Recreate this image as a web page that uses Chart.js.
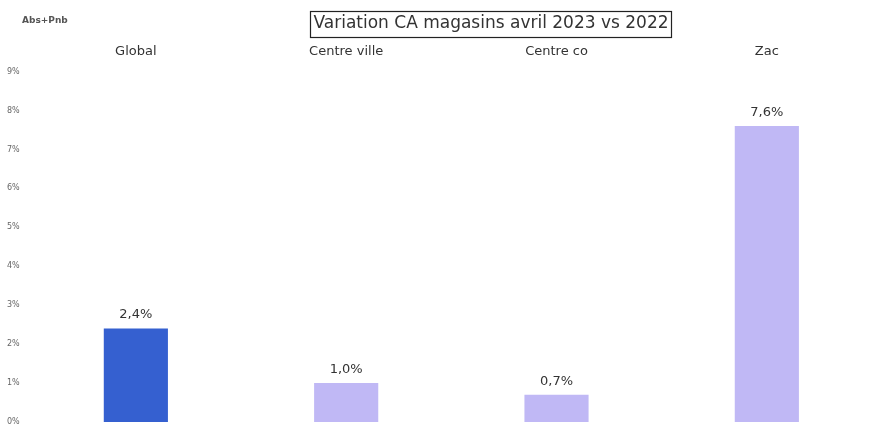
<!DOCTYPE html>
<html>
<head>
<meta charset="utf-8">
<script src="https://cdn.jsdelivr.net/npm/chart.js@4.4.0/dist/chart.umd.min.js"></script>
<style>
html,body{margin:0;padding:0;background:#fff;}
#wrap{width:887px;height:437px;position:relative;}
</style>
</head>
<body>
<div id="wrap"><canvas id="c" width="887" height="437"></canvas></div>
<script>
const categories = ["Global", "Centre ville", "Centre co", "Zac"];
const values = [2.4, 1.0, 0.7, 7.6];
const barColors = ["#3560d0", "#c0b8f5", "#c0b8f5", "#c0b8f5"];
const titleText = "Variation CA magasins avril 2023 vs 2022";
const cornerText = "Abs+Pnb";
const yMin = 0, yMax = 9, yStep = 1;

const fmt = v => v.toFixed(1).replace('.', ',') + '%';

const extras = {
  id: 'extras',
  afterDraw(chart) {
    const ctx = chart.ctx;
    ctx.save();
    // title with box
    ctx.font = '17px "DejaVu Sans", sans-serif';
    const w = ctx.measureText(titleText).width;
    const cx = 491, cy = 24;
    ctx.fillStyle = '#333';
    ctx.textAlign = 'center';
    ctx.textBaseline = 'middle';
    ctx.fillText(titleText, cx, cy);
    ctx.strokeStyle = '#222';
    ctx.lineWidth = 1.2;
    ctx.strokeRect(Math.round(cx - w / 2 - 3) + 0.5, Math.round(cy - 13) + 0.5, Math.round(w + 6), 26);
    // corner text
    ctx.font = 'bold 9px "DejaVu Sans", sans-serif';
    ctx.fillStyle = '#555';
    ctx.textAlign = 'left';
    ctx.fillText(cornerText, 22, 21);
    // data labels
    const meta = chart.getDatasetMeta(0);
    ctx.font = '13px "DejaVu Sans", sans-serif';
    ctx.fillStyle = '#333';
    ctx.textAlign = 'center';
    ctx.textBaseline = 'bottom';
    meta.data.forEach((bar, i) => {
      ctx.fillText(fmt(values[i]), bar.x, bar.y - 7);
    });
    ctx.restore();
  }
};

new Chart(document.getElementById('c'), {
  type: 'bar',
  data: {
    labels: categories,
    datasets: [{
      data: values,
      backgroundColor: barColors,
      borderWidth: 0,
      barPercentage: 0.61,
      categoryPercentage: 0.5
    }]
  },
  options: {
    responsive: false,
    animation: false,
    layout: { padding: { left: 4, right: 15, top: 40, bottom: 15 } },
    plugins: {
      legend: { display: false },
      tooltip: { enabled: false },
      title: { display: false }
    },
    scales: {
      x: {
        position: 'top',
        grid: { display: false },
        border: { display: false },
        ticks: { color: '#333', font: { size: 13, family: '"DejaVu Sans", sans-serif' }, padding: 4 }
      },
      y: {
        min: yMin, max: yMax,
        grid: { display: false },
        border: { display: false },
        ticks: {
          stepSize: yStep,
          color: '#666',
          font: { size: 8, family: '"DejaVu Sans", sans-serif' },
          padding: 3,
          callback: v => v + '%'
        }
      }
    }
  },
  plugins: [extras]
});
</script>
</body>
</html>
